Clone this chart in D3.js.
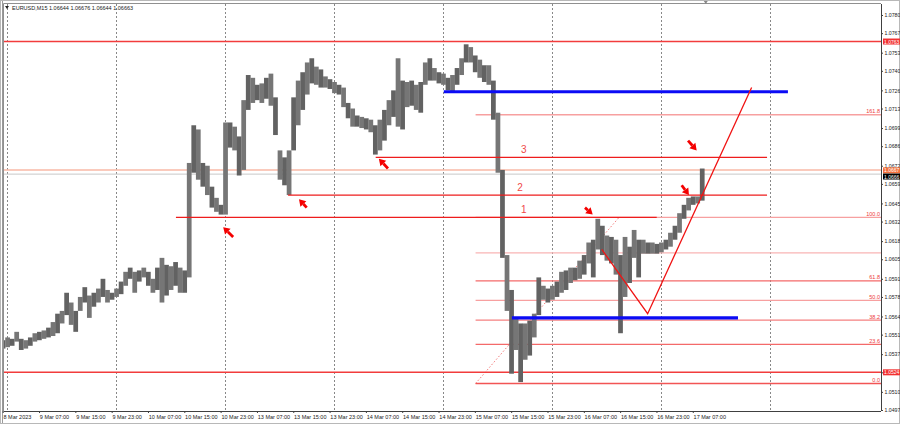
<!DOCTYPE html>
<html>
<head>
<meta charset="utf-8">
<script src="https://cdn.jsdelivr.net/npm/d3@7"></script>
<style>
  html, body { margin: 0; padding: 0; background: #fff; }
  svg { display: block; font-family: "Liberation Sans", Arial, sans-serif; }
</style>
</head>
<body>
<svg id="chart" width="900" height="424"></svg>
<script>
// EURUSD M15, one entry per trading hour starting 8 Mar 23:00
const highs = [1.0547,1.0549,1.0548,1.0553,1.0548,1.0547,1.0549,1.0552,1.0553,1.0554,
  1.0556,1.0560,1.0566,1.0568,1.0581,1.0574,1.0568,1.0578,1.0585,1.0579,
  1.0581,1.0584,1.0591,1.0583,1.0581,1.0584,1.0589,1.0596,1.0599,1.0596,
  1.0597,1.0599,1.0596,1.0591,1.0599,1.0606,1.0601,1.0600,1.0603,1.0599,
  1.0597,1.0674,1.0701,1.0698,1.0674,1.0672,1.0657,1.0649,1.0644,1.0703,
  1.0703,1.0700,1.0693,1.0719,1.0737,1.0735,1.0730,1.0731,1.0735,1.0738,
  1.0721,1.0683,1.0678,1.0683,1.0721,1.0733,1.0739,1.0746,1.0749,1.0743,
  1.0741,1.0736,1.0734,1.0732,1.0730,1.0728,1.0717,1.0713,1.0708,1.0707,
  1.0706,1.0705,1.0701,1.0705,1.0712,1.0719,1.0726,1.0749,1.0733,1.0732,
  1.0733,1.0730,1.0732,1.0746,1.0749,1.0742,1.0739,1.0738,1.0735,1.0737,
  1.0742,1.0749,1.0759,1.0757,1.0751,1.0748,1.0744,1.0744,1.0733,1.0710,
  1.0669,1.0608,1.0583,1.0563,1.0559,1.0559,1.0561,1.0566,1.0592,1.0586,
  1.0584,1.0586,1.0589,1.0596,1.0597,1.0599,1.0599,1.0604,1.0608,1.0617,
  1.0619,1.0634,1.0629,1.0622,1.0621,1.0619,1.0608,1.0621,1.0614,1.0626,
  1.0619,1.0619,1.0617,1.0617,1.0616,1.0617,1.0619,1.0624,1.0629,1.0638,
  1.0644,1.0649,1.0650,1.0650,1.0670];
const lows = [1.0541,1.0542,1.0543,1.0546,1.0540,1.0541,1.0543,1.0546,1.0547,1.0548,
  1.0549,1.0550,1.0552,1.0559,1.0565,1.0558,1.0553,1.0568,1.0574,1.0563,
  1.0571,1.0574,1.0578,1.0574,1.0576,1.0578,1.0580,1.0586,1.0591,1.0581,
  1.0589,1.0592,1.0586,1.0581,1.0583,1.0574,1.0579,1.0583,1.0586,1.0581,
  1.0581,1.0592,1.0667,1.0662,1.0657,1.0651,1.0642,1.0639,1.0637,1.0637,
  1.0685,1.0683,1.0665,1.0669,1.0712,1.0717,1.0719,1.0717,1.0720,1.0715,
  1.0694,1.0662,1.0658,1.0651,1.0683,1.0701,1.0712,1.0723,1.0731,1.0730,
  1.0728,1.0728,1.0727,1.0724,1.0723,1.0714,1.0706,1.0700,1.0700,1.0699,
  1.0698,1.0696,1.0680,1.0683,1.0690,1.0701,1.0707,1.0700,1.0698,1.0714,
  1.0715,1.0712,1.0710,1.0730,1.0733,1.0733,1.0731,1.0730,1.0726,1.0725,
  1.0730,1.0737,1.0746,1.0746,1.0739,1.0735,1.0732,1.0730,1.0705,1.0667,
  1.0606,1.0568,1.0523,1.0540,1.0517,1.0533,1.0536,1.0549,1.0565,1.0576,
  1.0574,1.0576,1.0578,1.0581,1.0583,1.0588,1.0590,1.0591,1.0594,1.0602,
  1.0592,1.0612,1.0608,1.0604,1.0602,1.0594,1.0552,1.0578,1.0588,1.0606,
  1.0592,1.0609,1.0609,1.0609,1.0609,1.0610,1.0612,1.0614,1.0619,1.0624,
  1.0634,1.0640,1.0644,1.0645,1.0647];

const priceTicks = [1.0780,1.0767,1.0753,1.0740,1.0726,1.0713,1.0699,1.0686,1.0672,1.0659,1.0645,
  1.0632,1.0618,1.0605,1.0591,1.0578,1.0564,1.0551,1.0537,1.0524,1.0510,1.0497];
const timeHours = [0,8,16,24,32,40,48,56,64,72,80,88,96,104,112,120,128,136,144,152];
const timeLabels = ["8 Mar 2023","9 Mar 07:00","9 Mar 15:00","9 Mar 23:00","10 Mar 07:00","10 Mar 15:00",
  "10 Mar 23:00","13 Mar 07:00","13 Mar 15:00","13 Mar 23:00","14 Mar 07:00","14 Mar 15:00",
  "14 Mar 23:00","15 Mar 07:00","15 Mar 15:00","15 Mar 23:00","16 Mar 07:00","16 Mar 15:00",
  "16 Mar 23:00","17 Mar 07:00"];
const gridHours = [1.4,25.4,49.4,73.4,97.4,121.4,145.4,169.4];

// horizontal lines across the whole chart
const fullLinePrices = [1.0761, 1.0524];
const fullLineTags = ["1.0763", "1.0524"];
const markLinePrice = 1.0669, markLineTag = "1.0667";
const bidPrice = 1.0666, bidTag = "1.0666";

// numbered levels
const levelNames = ["1","2","3"];
const levelPrices = [1.0635, 1.0651, 1.0678];
const levelFrom = [38.6, 63.3, 82.6];
const levelTo = [144.5, 168.8, 168.8];
const levelLabelHour = [115.2, 114.4, 115.2];

// blue zones
const bluePrices = [1.0725, 1.0563];
const blueFrom = [97.6, 112.6];
const blueTo = [173.4, 162.4];

// fibonacci
const fibLow = 1.0516, fibHigh = 1.0635, fibT0 = 104.6, fibT1 = 136.2;
const fibRatios = [0, 0.236, 0.382, 0.5, 0.618, 0.786, 1, 1.618];
const fibLabels = ["0.0","23.6","38.2","50.0","61.8","","100.0","161.8"];

// red V
const vHours = [132.4, 142.5, 165.4];
const vPrices = [1.0612, 1.0566, 1.0728];

// arrows: tail -> tip
const arrowFromH = [51.2, 67.4, 85.3, 128.7, 151.4, 150.0];
const arrowFromP = [1.0621, 1.0642, 1.0670, 1.0642, 1.0690, 1.0658];
const arrowToH = [49.0, 65.7, 83.3, 130.4, 153.3, 151.6];
const arrowToP = [1.0628, 1.0648, 1.0677, 1.0637, 1.0683, 1.0651];

const pLeft = 4, pRight = 881, pTop = 4, pBottom = 411;
const svg = d3.select("#chart");

const x = d3.scaleLinear().domain([0, 193.9]).range([0.7, 881]);
const y = d3.scaleLinear().domain([1.0497, 1.0780]).range([410, 15]);

// frame
svg.append("rect").attr("x", 0.5).attr("y", 0.5).attr("width", 899).attr("height", 423)
  .attr("fill", "#fff").attr("stroke", "#b8b8b8");
svg.append("line").attr("x1", 2.5).attr("x2", 2.5).attr("y1", 1).attr("y2", 423).attr("stroke", "#9a9a9a");

const plot = svg.append("g");
plot.append("clipPath").attr("id", "clip").append("rect")
  .attr("x", pLeft).attr("y", pTop).attr("width", pRight - pLeft).attr("height", pBottom - pTop);
const g = plot.append("g").attr("clip-path", "url(#clip)");

// dotted verticals
g.selectAll(".grid").data(gridHours).join("line")
  .attr("x1", d => Math.round(x(d)) + 0.5).attr("x2", d => Math.round(x(d)) + 0.5)
  .attr("y1", pTop).attr("y2", pBottom)
  .attr("stroke", "#6a6a6a").attr("stroke-width", 0.8).attr("stroke-dasharray", "2,2");

// fib lines
const fibPrice = r => fibLow + r * (fibHigh - fibLow);
const fibColors = ["#f25555","#f46a6a","#f58080","#f7a0a0","#f46a6a","#f9b4b4","#f7a0a0","#f7a0a0"];
g.selectAll(".fib").data(fibRatios).join("line")
  .attr("x1", x(fibT0)).attr("x2", pRight)
  .attr("y1", d => y(fibPrice(d))).attr("y2", d => y(fibPrice(d)))
  .attr("stroke", (d, i) => fibColors[i]).attr("stroke-width", 1.3);
g.selectAll(".fibtxt").data(fibRatios).join("text")
  .attr("x", pRight - 1).attr("y", d => y(fibPrice(d)) - 1.5)
  .attr("text-anchor", "end").attr("font-size", 5.5).attr("fill", "#ee3b3b")
  .text((d, i) => fibLabels[i]);
g.append("line")
  .attr("x1", x(fibT0)).attr("y1", y(fibLow)).attr("x2", x(fibT1)).attr("y2", y(fibHigh))
  .attr("stroke", "#f06a6a").attr("stroke-width", 0.9).attr("stroke-dasharray", "1.5,2");

// full width lines
g.append("line").attr("x1", pLeft).attr("x2", pRight)
  .attr("y1", y(markLinePrice)).attr("y2", y(markLinePrice))
  .attr("stroke", "#f9b9a6").attr("stroke-width", 1.6);
g.append("line").attr("x1", pLeft).attr("x2", pRight)
  .attr("y1", y(bidPrice)).attr("y2", y(bidPrice))
  .attr("stroke", "#c8c8c8").attr("stroke-width", 1);
g.selectAll(".full").data(fullLinePrices).join("line")
  .attr("x1", pLeft).attr("x2", pRight)
  .attr("y1", d => y(d)).attr("y2", d => y(d))
  .attr("stroke", "#f23c3c").attr("stroke-width", 1.5);

// price bars, drawn edge to edge like the dense M15 bars
const bw = x(1) - x(0);
g.selectAll(".bar").data(highs).join("rect")
  .attr("x", (d, i) => x(i))
  .attr("width", bw + 0.2)
  .attr("y", d => y(d))
  .attr("height", (d, i) => Math.max(1, y(lows[i]) - y(d)))
  .attr("fill", (d, i) => i % 2 ? "#767676" : "#626262");

// numbered levels
g.selectAll(".lvl").data(levelPrices).join("line")
  .attr("x1", (d, i) => x(levelFrom[i])).attr("x2", (d, i) => x(levelTo[i]))
  .attr("y1", d => y(d)).attr("y2", d => y(d))
  .attr("stroke", "#ee1c1c").attr("stroke-width", 1.3);
g.selectAll(".lvltxt").data(levelPrices).join("text")
  .attr("x", (d, i) => x(levelLabelHour[i])).attr("y", d => y(d) - 4)
  .attr("text-anchor", "middle").attr("font-size", 10).attr("fill", "#f04848")
  .text((d, i) => levelNames[i]);

// blue lines
g.selectAll(".blue").data(bluePrices).join("line")
  .attr("x1", (d, i) => x(blueFrom[i])).attr("x2", (d, i) => x(blueTo[i]))
  .attr("y1", d => y(d)).attr("y2", d => y(d))
  .attr("stroke", "#0b0bf5").attr("stroke-width", 3.2);

// red V
g.append("path")
  .attr("d", d3.line().x(d => x(d)).y((d, i) => y(vPrices[i]))(vHours))
  .attr("fill", "none").attr("stroke", "#f01414").attr("stroke-width", 1.3);

// arrows
arrowFromH.forEach((h, i) => {
  const x0 = x(h), y0 = y(arrowFromP[i]), x1 = x(arrowToH[i]), y1 = y(arrowToP[i]);
  const a = Math.atan2(y1 - y0, x1 - x0);
  const hl = 6.5, hw = 4;
  const bx = x1 - hl * Math.cos(a), by = y1 - hl * Math.sin(a);
  const px = -Math.sin(a), py = Math.cos(a);
  g.append("line").attr("x1", x0).attr("y1", y0).attr("x2", bx).attr("y2", by)
    .attr("stroke", "#f40000").attr("stroke-width", 2.8);
  g.append("path")
    .attr("d", `M${x1},${y1}L${bx + px * hw},${by + py * hw}L${bx - px * hw},${by - py * hw}Z`)
    .attr("fill", "#f40000");
});

// axes
const yAxis = svg.append("g").attr("transform", `translate(${pRight},0)`)
  .call(d3.axisRight(y).tickValues(priceTicks).tickFormat(d3.format(".4f")).tickSize(2).tickSizeOuter(0));
yAxis.select(".domain").attr("d", `M0.5,${pTop}V${pBottom}`).attr("stroke", "#404040");
yAxis.selectAll("text").attr("x", 3.5).attr("font-size", 5.2).attr("font-family", "Liberation Sans, Arial").attr("fill", "#222");
yAxis.selectAll("line").attr("stroke", "#404040");

const xAxis = svg.append("g").attr("transform", `translate(0,${pBottom})`)
  .call(d3.axisBottom(x).tickValues(timeHours).tickFormat((d, i) => timeLabels[i]).tickSize(2).tickSizeOuter(0));
xAxis.select(".domain").attr("d", `M${pLeft},0.5H${pRight}`).attr("stroke", "#404040");
xAxis.selectAll("text").attr("text-anchor", "start").attr("x", 2.3).attr("y", 4)
  .attr("font-size", 5.5).attr("font-family", "Liberation Sans, Arial").attr("fill", "#222");
xAxis.selectAll("line").attr("stroke", "#404040").attr("transform", "translate(2,0)");

// top and left edges of the plot
svg.append("path").attr("d", `M${pLeft - 0.5},${pBottom}V${pTop - 0.5}H${pRight}`)
  .attr("fill", "none").attr("stroke", "#909090");

// price tags; dy shifts a tag so that neighbouring tags sit one above the other
function tag(price, label, bg, fg, dy) {
  const ty = y(price) + dy;
  svg.append("rect").attr("x", pRight + 2).attr("y", ty - 3).attr("width", 900 - pRight - 2).attr("height", 6).attr("fill", bg);
  svg.append("text").attr("x", pRight + 3).attr("y", ty + 2).attr("font-size", 5).attr("fill", fg).text(label);
}
fullLinePrices.forEach((p, i) => tag(p, fullLineTags[i], "#f23030", "#fff", 0));
tag(markLinePrice, markLineTag, "#f4703c", "#fff", 0.4);
tag(bidPrice, bidTag, "#000", "#fff", 2.4);

// title
svg.append("path").attr("d", "M5,6H9L7,9Z").attr("fill", "#222");
svg.append("text").attr("x", 12).attr("y", 10).attr("font-size", 5.5).attr("fill", "#222")
  .text("EURUSD,M15  1.06644 1.06676 1.06644 1.06663");
// chart shift marker
svg.append("path").attr("d", `M${x(155.3) - 2},1H${x(155.3) + 2}L${x(155.3)},4Z`).attr("fill", "#888");
</script>
</body>
</html>
